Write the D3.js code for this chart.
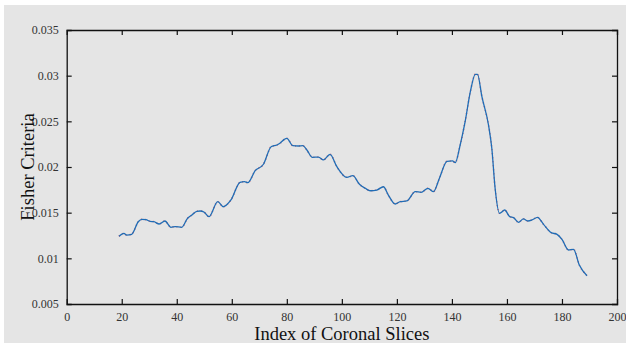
<!DOCTYPE html>
<html>
<head>
<meta charset="utf-8">
<script src="https://cdn.jsdelivr.net/npm/d3@7"></script>
<style>
  body { margin: 0; background: #fff; }
  svg { display: block; }
</style>
</head>
<body>
<div id="viz"></div>
<script>
// slice index (x) and fisher criterion (y)
const sliceIdx = [19.0, 20.8, 21.8, 23.6, 26.0, 27.3, 28.8, 30.3, 31.7, 33.6, 35.7, 37.9, 39.4, 41.8,
  43.9, 45.5, 47.3, 48.5, 50.0, 51.7, 54.9, 56.9, 59.7, 63.0, 64.6, 65.8, 68.5, 71.5, 74.3, 76.4,
  77.6, 79.1, 80.0, 82.2, 84.2, 85.8, 87.3, 89.3, 91.5, 93.3, 95.7, 98.2, 101.8, 104.0, 106.4,
  108.5, 110.3, 112.7, 115.1, 116.9, 119.4, 121.2, 123.6, 126.7, 128.8, 131.3, 133.3, 135.5,
  138.2, 140.2, 141.2, 143.0, 144.8, 146.7, 148.5, 149.3, 150.9, 153.3, 154.5, 155.7, 157.3,
  159.2, 161.0, 162.4, 164.2, 166.0, 167.6, 169.1, 171.1, 173.3, 176.1, 178.2, 180.0, 182.4,
  184.2, 186.3, 189.1];
const fisher = [0.01241, 0.01274, 0.01255, 0.01263, 0.01401, 0.01427, 0.01423, 0.01405, 0.01401,
  0.01376, 0.01409, 0.01340, 0.01347, 0.01340, 0.01438, 0.01474, 0.01515, 0.01518, 0.01504,
  0.01456, 0.01620, 0.01565, 0.01639, 0.01832, 0.01839, 0.01828, 0.01960, 0.02030, 0.02222,
  0.02241, 0.02262, 0.02303, 0.02314, 0.02233, 0.02230, 0.02233, 0.02186, 0.02106, 0.02109,
  0.02077, 0.02139, 0.02003, 0.01887, 0.01905, 0.01811, 0.01767, 0.01740, 0.01748, 0.01784,
  0.01693, 0.01595, 0.01620, 0.01628, 0.01730, 0.01723, 0.01767, 0.01730, 0.01880, 0.02062,
  0.02066, 0.02047, 0.02241, 0.02496, 0.02825, 0.03015, 0.03015, 0.02770, 0.02460, 0.02205,
  0.01767, 0.01493, 0.01529, 0.01456, 0.01445, 0.01394, 0.01431, 0.01409, 0.01420, 0.01449,
  0.01372, 0.01281, 0.01263, 0.01208, 0.01091, 0.01099, 0.00927, 0.00810];
const xTicks = [0, 20, 40, 60, 80, 100, 120, 140, 160, 180, 200];
const yTicks = [0.005, 0.01, 0.015, 0.02, 0.025, 0.03, 0.035];
const yTickLabels = ["0.005", "0.01", "0.015", "0.02", "0.025", "0.03", "0.035"];

const W = 626, H = 343;
const margin = { top: 30, right: 9, bottom: 39, left: 66.7 };
const width = W - margin.left - margin.right;
const height = H - margin.top - margin.bottom;
const font = "Liberation Serif, Times New Roman, serif";

const root = d3.select("#viz").append("svg")
  .attr("width", W)
  .attr("height", H);

root.append("rect")
  .attr("x", 4).attr("y", 5)
  .attr("width", W - 4).attr("height", H - 5)
  .attr("fill", "#e5e5e5");

const svg = root.append("g")
  .attr("transform", `translate(${margin.left},${margin.top})`);

const x = d3.scaleLinear().domain([0, 200]).range([0, width]);
const y = d3.scaleLinear().domain([0.005, 0.035]).range([height, 0]);

const data = sliceIdx.map((s, i) => ({ s, v: fisher[i] }));

const line = d3.line()
  .x(d => x(d.s))
  .y(d => y(d.v))
  .curve(d3.curveMonotoneX);

// red series underneath, mostly hidden by the blue one
svg.append("path")
  .datum(data)
  .attr("fill", "none")
  .attr("stroke", "#e0606a")
  .attr("stroke-width", 1.6)
  .attr("stroke-dasharray", "1,3")
  .attr("d", line);

svg.append("path")
  .datum(data)
  .attr("fill", "none")
  .attr("stroke", "#1f6db6")
  .attr("stroke-width", 1.3)
  .attr("d", line);

// axes with inward ticks on all four sides
const tick = 5;
const axBottom = svg.append("g").attr("transform", `translate(0,${height})`)
  .call(d3.axisBottom(x).tickValues(xTicks).tickSize(-tick).tickPadding(8).tickFormat(d3.format("d")));
const axTop = svg.append("g")
  .call(d3.axisTop(x).tickValues(xTicks).tickSize(-tick).tickFormat(""));
const axLeft = svg.append("g")
  .call(d3.axisLeft(y).tickValues(yTicks).tickSize(-tick).tickPadding(8).tickFormat((d, i) => yTickLabels[i]));
const axRight = svg.append("g").attr("transform", `translate(${width},0)`)
  .call(d3.axisRight(y).tickValues(yTicks).tickSize(-tick).tickFormat(""));

[axBottom, axTop, axLeft, axRight].forEach(g => {
  g.attr("font-family", font).attr("font-size", 12);
  g.select(".domain").attr("stroke", "#111").attr("stroke-width", 1.3);
  g.selectAll(".tick line").attr("stroke", "#111").attr("stroke-width", 1.2);
  g.selectAll(".tick text").attr("fill", "#333");
});
// hide end ticks touching the box corners
axBottom.selectAll(".tick line").filter(d => d === 0 || d === 200).remove();
axTop.selectAll(".tick line").filter(d => d === 0 || d === 200).remove();
axLeft.selectAll(".tick line").filter(d => d === 0.005 || d === 0.035).remove();
axRight.selectAll(".tick line").filter(d => d === 0.005 || d === 0.035).remove();

svg.append("text")
  .attr("x", width / 2)
  .attr("y", height + 36)
  .attr("text-anchor", "middle")
  .attr("font-family", font)
  .attr("font-size", 18.5)
  .attr("fill", "#111")
  .text("Index of Coronal Slices");

svg.append("text")
  .attr("transform", `translate(${34 - margin.left},${height / 2}) rotate(-90)`)
  .attr("text-anchor", "middle")
  .attr("font-family", font)
  .attr("font-size", 18.5)
  .attr("fill", "#111")
  .text("Fisher Criteria");
</script>
</body>
</html>
